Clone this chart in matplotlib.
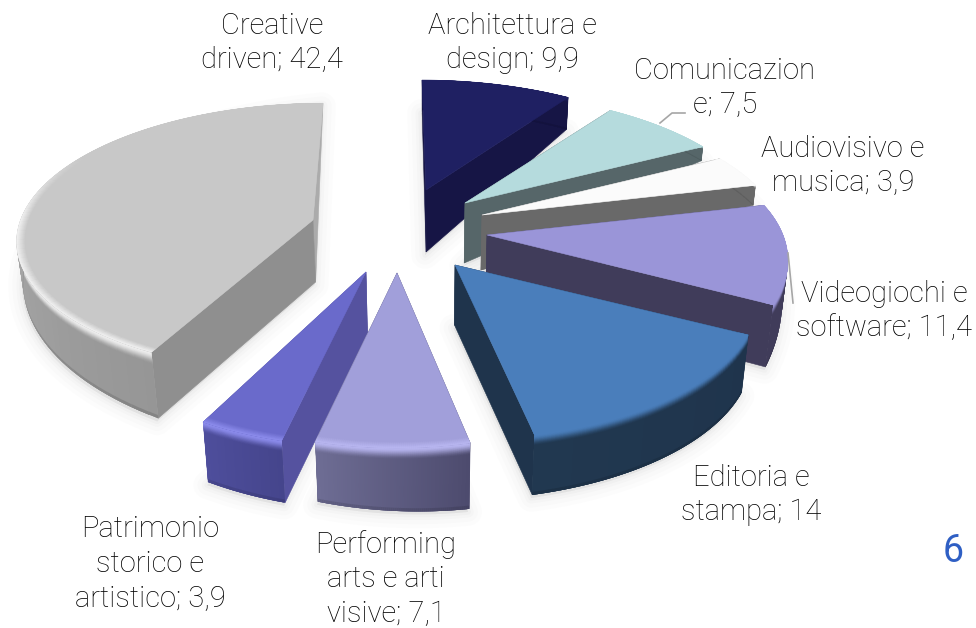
import matplotlib
matplotlib.use('Agg')
import matplotlib.pyplot as plt
import matplotlib.colors as mcolors
from matplotlib.collections import PolyCollection
from matplotlib.patches import Polygon
import numpy as np

# data, clockwise from 12 o'clock
names = ['Architettura e\ndesign; 9,9', 'Comunicazion\ne; 7,5', 'Audiovisivo e\nmusica; 3,9',
         'Videogiochi e\nsoftware; 11,4', 'Editoria e\nstampa; 14',
         'Performing\narts e arti\nvisive; 7,1', 'Patrimonio\nstorico e\nartistico; 3,9',
         'Creative\ndriven; 42,4']
values = [9.9, 7.5, 3.9, 11.4, 14, 7.1, 3.9, 42.4]

# where each exploded slice sits and how it is projected
apex_x = [426, 465, 482, 487, 455, 397, 366, 313]
apex_y = [190, 203, 215, 235, 265, 273, 272, 220]
persp = [.228, .228, .228, .228, .228, .228, .228, .13]
skew = [-4, 0, 0, 15, 0, 0, 0, 10]
x_scale = [1, 1, 1, 1, 1, .92, .95, .988]
# wall height at the apex, at the start of the arc, at the end of the arc
h_apex = [62, 60, 55, 58, 60, 62, 61, 62]
h_start = [30, 14, 20, 18, 58, 66, 62, 66]
h_end = [32, 14, 20, 62, 60, 60, 60, 0]

top_col = ['#1F2062', '#B5DBDD', '#FBFBFB', '#9A95D8', '#4A7EBB', '#A19FDA', '#6A6ACB', '#C8C8C8']
rim_col = ['#1F2062', '#B5DBDD', '#FBFBFB', '#9A95D8', '#4A7EBB', '#B8B6F0', '#8C8CEC', '#EFEFEF']
wall_a = ['#161545', '#566669', '#696969', '#403C5A', '#1F344C', '#4D4B6E', '#45458C', '#969696']
wall_b = ['#161545', '#566669', '#696969', '#403C5A', '#213850', '#6E6D94', '#4E4E9C', '#C0C0C0']
cut_a = ['#161545', '#566669', '#696969', '#403C5A', '#1F344C', '#4D4B6E', '#55529F', '#8F8F8F']
cut_b = ['#161545', '#566669', '#696969', '#403C5A', '#1F344C', '#4D4B6E', '#55529F', '#ABABAB']

label_x = [512, 725, 843, 884, 751, 386, 150, 272]
label_y = [43, 88, 166, 311, 495, 579, 564, 43]
draw_order = [0, 1, 2, 3, 4, 7, 6, 5]

RX = 296.
RY = 135.

fracs = np.array(values) / sum(values)
edges = np.concatenate([[0], np.cumsum(fracs)]) * 2 * np.pi


def project(i, theta, r=1.):
    """Top face point of slice i, theta clockwise from 12 o'clock."""
    a = r * np.sin(theta)
    b = r * np.cos(theta)
    if i == 7:
        ry = 132.
    else:
        ry = RY
    den = 1 + persp[i] * b
    x = apex_x[i] + x_scale[i] * RX * a / den + skew[i] * b
    y = apex_y[i] - ry * b / den
    return x, y


def drop(x, y, h):
    """Push a point down by a wall height, leaning towards the middle."""
    return x - (x - 430) * .022 * h / 60., y + h


def mix(c0, c1, t):
    c0 = np.array(mcolors.to_rgb(c0))
    c1 = np.array(mcolors.to_rgb(c1))
    return tuple(c0 + (c1 - c0) * t)


fig = plt.figure(figsize=(9.76, 6.28), dpi=100)
ax = fig.add_axes([0, 0, 1, 1])
ax.set_xlim(0, 976)
ax.set_ylim(628, 0)
ax.axis('off')

# soft ground shadow first
for i in range(len(values)):
    th = np.linspace(edges[i], edges[i + 1], 50)
    hs = np.linspace(h_start[i], h_end[i], 50)
    rx, ry = project(i, th)
    bx, by = drop(rx, ry, hs)
    bx = np.append(bx, drop(apex_x[i], apex_y[i], h_apex[i])[0])
    by = np.append(by, apex_y[i] + h_apex[i])
    for lw, al in [(20, .018), (14, .025), (8, .03), (4, .04)]:
        ax.add_patch(Polygon(np.c_[bx - 1, by + 3], closed=True, fc='#808080', ec='#808080',
                             lw=lw, alpha=al, joinstyle='round', zorder=1))

z = 2
for i in draw_order:
    t0, t1 = edges[i], edges[i + 1]
    th = np.linspace(t0, t1, 80)
    hs = np.linspace(h_start[i], h_end[i], 80)
    ax_ = apex_x[i]
    ay_ = apex_y[i]
    bax, bay = drop(ax_, ay_, h_apex[i])

    # the two cut walls
    for k, col in [(-1, cut_b[i]), (0, cut_a[i])]:
        ex, ey = project(i, th[k])
        fx, fy = drop(ex, ey, hs[k])
        ax.add_patch(Polygon([(ax_, ay_), (ex, ey), (fx, fy), (bax, bay)], closed=True,
                             fc=col, ec=col, lw=.4, zorder=z))
        z += 1

    # outer wall, shaded along the arc and down its height
    # each quad overlaps the next ones so no seams show through
    fade = np.concatenate([np.linspace(0, .18, 19), [.6, .95, 1]])
    quads = []
    cols = []
    for j in range(len(th) - 1):
        j2 = min(j + 2, len(th) - 1)
        x0, y0 = project(i, th[j])
        x1, y1 = project(i, th[j2])
        wall = mix(wall_a[i], wall_b[i], j / (len(th) - 2.))
        for q in range(len(fade) - 1):
            q2 = min(q + 2, len(fade) - 1)
            quads.append([drop(x0, y0, hs[j] * fade[q]), drop(x1, y1, hs[j2] * fade[q]),
                          drop(x1, y1, hs[j2] * fade[q2]), drop(x0, y0, hs[j] * fade[q2])])
            if fade[q] < .18:
                t = fade[q] / .18
                cols.append(mix(rim_col[i], wall, t * t * (3 - 2 * t)))
            elif fade[q] >= .95:
                cols.append(mix(wall, '#000000', .12))
            else:
                cols.append(wall)
    ax.add_collection(PolyCollection(quads, facecolors=cols, edgecolors='none', zorder=z))
    z += 1

    # top face
    rx, ry = project(i, th)
    ax.add_patch(Polygon(np.c_[np.append(rx, ax_), np.append(ry, ay_)], closed=True,
                         fc=top_col[i], ec=top_col[i], lw=.4, zorder=z))
    z += 1

    # bevel just inside the rim
    rings = np.linspace(.97, 1, 9)
    quads = []
    cols = []
    for j in range(len(th) - 1):
        front = np.clip((.5 - np.cos(th[j])) / .5, 0, 1)
        j2 = min(j + 2, len(th) - 1)
        for q in range(len(rings) - 1):
            q2 = min(q + 2, len(rings) - 1)
            quads.append([project(i, th[j], rings[q]), project(i, th[j2], rings[q]),
                          project(i, th[j2], rings[q2]), project(i, th[j], rings[q2])])
            cols.append(mix(top_col[i], rim_col[i], front * q / (len(rings) - 2.)))
    ax.add_collection(PolyCollection(quads, facecolors=cols, edgecolors='none', zorder=z))
    z += 1

# leader lines
ax.plot([660, 672, 685], [123, 113, 113], color='#A6A6A6', lw=1.2, zorder=z)
ax.plot([788, 793], [253, 303], color='#A6A6A6', lw=1.2, zorder=z)

for i in range(len(values)):
    ax.text(label_x[i], label_y[i], names[i], ha='center', va='center', fontsize=21,
            family='Roboto', weight='light', color='#000000', linespacing=1.3, zorder=z + 1)

ax.text(953, 552, '6', ha='center', va='center', fontsize=27, family='Roboto',
        color='#2F5FC4', zorder=z + 1)

plt.savefig('out.png', dpi=100)
